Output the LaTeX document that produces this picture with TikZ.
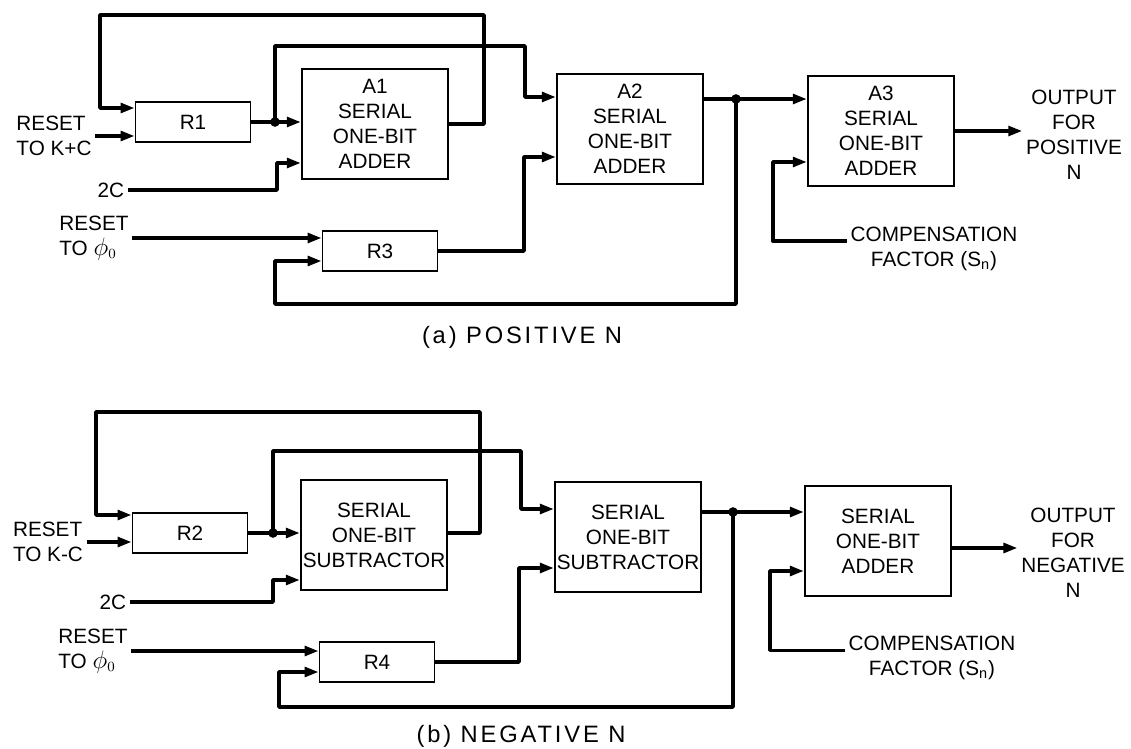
\documentclass[tikz,border=0pt]{standalone}
\usepackage{fontspec}
\setmainfont{Liberation Sans}
\usepackage{tikz}
\usetikzlibrary{arrows.meta, positioning, calc}
\newcommand{\diafont}{\fontsize{11.8}{14.3}\selectfont}
\newcommand{\captfont}{\fontsize{13.5}{16}\selectfont\addfontfeature{LetterSpace=12}}
\newcommand{\phinull}{{\Large$\phi$}$_0$}
\tikzset{
  block/.style={rectangle, draw, line width=1pt, align=center,
    minimum width=2.93cm, minimum height=2.2cm, font=\diafont, inner sep=0pt},
  regbox/.style={rectangle, draw, line width=1pt, align=center,
    minimum width=2.3cm, minimum height=0.8cm, font=\diafont, inner sep=0pt},
  lbl/.style={align=left, font=\diafont, inner sep=2pt},
  arrow/.style={-{Triangle[length=8pt,width=5.5pt]}, line width=2pt, line join=round},
  line/.style={line width=2pt, line join=round},
  dot/.style={circle, fill, inner sep=0pt, minimum size=5.5pt},
  caption/.style={font=\captfont}
}

\begin{document}
\begin{tikzpicture}[x=0.02cm, y=-0.02cm]
  \useasboundingbox (0,0) rectangle (1131,749);

  % (a) Positive N
  \node[regbox] (r1) at (193,122) {R1};
  \node[block] (a1) at (375,124) {A1\\SERIAL\\ONE-BIT\\ADDER};
  \node[block] (a2) at (630,129) {A2\\SERIAL\\ONE-BIT\\ADDER};
  \node[block] (a3) at (881,131) {A3\\SERIAL\\ONE-BIT\\ADDER};
  \node[regbox] (r3) at (380,251) {R3};
  \node[lbl] (kpc) at (54,136) {RESET\\TO K+C};
  \node[lbl, anchor=east] (twoc1) at (128,190) {2C};
  \node[lbl] (phi1) at (94,238) {RESET\\TO \phinull};
  \node[lbl, align=center] (comp1) at (934,249) {COMPENSATION\\FACTOR (S\textsubscript{n})};
  \node[lbl, align=center] (out1) at (1074,135) {OUTPUT\\FOR\\POSITIVE\\N};
  \node[dot] (j1) at (275,122) {};
  \node[dot] (j2) at (736,99) {};
  \node[caption] (capa) at (522,337) {(a) POSITIVE N};

  \draw[arrow] (a1.east) -| (484,15) -| (100,108) -- (r1.west |- 100,108);
  \draw[arrow] (kpc.east) -- (r1.west |- kpc.east);
  \draw[arrow] (r1.east) -- (a1.west |- r1.east);
  \draw[arrow] (j1.center) |- (525,46) |- (a2.west |- 525,97);
  \draw[arrow] (twoc1.east) -| (277,163) -- (a1.west |- 277,163);
  \draw[arrow] (r3.east) -| (524,157) -- (a2.west |- 524,157);
  \draw[arrow] (a2.east |- j2) -- (a3.west |- j2);
  \draw[arrow] (j2.center) |- (275,304) |- (r3.west |- 275,261);
  \draw[arrow] (phi1.east) -- (r3.west |- phi1.east);
  \draw[arrow] ($(comp1.north west)!0.35!(comp1.south west)$) -| (773,162) -- (a3.west |- 773,162);
  \draw[arrow] (a3.east) -- (out1.west |- a3.east);

  % (b) Negative N
  \node[regbox] (r2) at (190,533) {R2};
  \node[block] (s1) at (374,535) {SERIAL\\ONE-BIT\\SUBTRACTOR};
  \node[block] (s2) at (628,537) {SERIAL\\ONE-BIT\\SUBTRACTOR};
  \node[block] (a4) at (878,541) {SERIAL\\ONE-BIT\\ADDER};
  \node[regbox] (r4) at (377,662) {R4};
  \node[lbl] (kmc) at (48,542) {RESET\\TO K-C};
  \node[lbl, anchor=east] (twoc2) at (130,602) {2C};
  \node[lbl] (phi2) at (93,651) {RESET\\TO \phinull};
  \node[lbl, align=center] (comp2) at (932,658) {COMPENSATION\\FACTOR (S\textsubscript{n})};
  \node[lbl, align=center] (out2) at (1073,553) {OUTPUT\\FOR\\NEGATIVE\\N};
  \node[dot] (j3) at (273,533) {};
  \node[dot] (j4) at (733,512) {};
  \node[caption] (capb) at (521,736) {(b) NEGATIVE N};

  \draw[arrow] (s1.east |- j3) -| (480,412) -| (96,515) -- (r2.west |- 96,515);
  \draw[arrow] (kmc.east) -- (r2.west |- kmc.east);
  \draw[arrow] (r2.east |- j3) -- (s1.west |- j3);
  \draw[arrow] (j3.center) |- (521,451) |- (s2.west |- 521,509);
  \draw[arrow] (twoc2.east) -| (273,580) -- (s1.west |- 273,580);
  \draw[arrow] (r4.east) -| (519,568) -- (s2.west |- 519,568);
  \draw[arrow] (s2.east |- j4) -- (a4.west |- j4);
  \draw[arrow] (j4.center) |- (279,707) |- (r4.west |- 279,672);
  \draw[arrow] (phi2.east) -- (r4.west |- phi2.east);
  \draw[arrow] ($(comp2.north west)!0.35!(comp2.south west)$) -| (770,571) -- (a4.west |- 770,571);
  \draw[arrow] (a4.east |- 0,548) -- (out2.west |- 0,548);
\end{tikzpicture}
\end{document}
